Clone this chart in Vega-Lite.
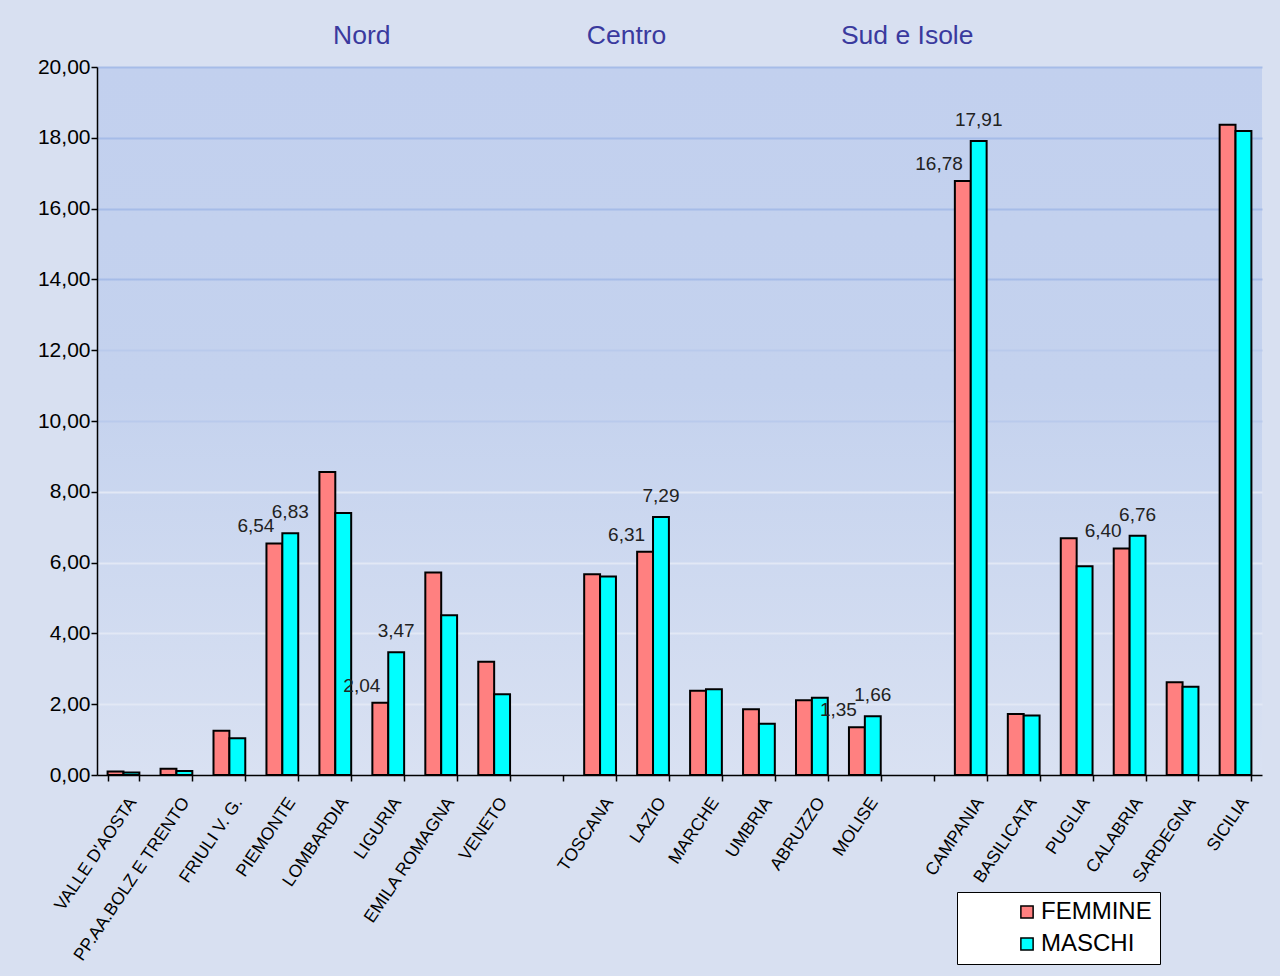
{
  "$schema": "https://vega.github.io/schema/vega-lite/v6.json",
  "autosize": {"type": "none"},
  "width": 1165,
  "height": 708,
  "padding": {"left": 97, "top": 67, "right": 18, "bottom": 201},
  "background": "#d8e0f1",
  "config": {
    "locale": {"number": {"decimal": ",", "thousands": ".", "grouping": [3], "currency": ["", " €"]}},
    "font": "Liberation Sans",
    "view": {
      "stroke": null,
      "fill": {
        "gradient": "linear",
        "x1": 0, "y1": 0, "x2": 0, "y2": 1,
        "stops": [
          {"offset": 0, "color": "#c2d0ee"},
          {"offset": 0.45, "color": "#c4d2ee"},
          {"offset": 1, "color": "#d9e1f2"}
        ]
      }
    }
  },
  "datasets": {
    "tassi": [
      {"regione": "VALLE D'AOSTA", "sesso": "FEMMINE", "valore": 0.10},
      {"regione": "VALLE D'AOSTA", "sesso": "MASCHI", "valore": 0.07},
      {"regione": "PP.AA.BOLZ E TRENTO", "sesso": "FEMMINE", "valore": 0.18},
      {"regione": "PP.AA.BOLZ E TRENTO", "sesso": "MASCHI", "valore": 0.11},
      {"regione": "FRIULI V. G.", "sesso": "FEMMINE", "valore": 1.25},
      {"regione": "FRIULI V. G.", "sesso": "MASCHI", "valore": 1.04},
      {"regione": "PIEMONTE", "sesso": "FEMMINE", "valore": 6.54},
      {"regione": "PIEMONTE", "sesso": "MASCHI", "valore": 6.83},
      {"regione": "LOMBARDIA", "sesso": "FEMMINE", "valore": 8.56},
      {"regione": "LOMBARDIA", "sesso": "MASCHI", "valore": 7.40},
      {"regione": "LIGURIA", "sesso": "FEMMINE", "valore": 2.04},
      {"regione": "LIGURIA", "sesso": "MASCHI", "valore": 3.47},
      {"regione": "EMILA ROMAGNA", "sesso": "FEMMINE", "valore": 5.72},
      {"regione": "EMILA ROMAGNA", "sesso": "MASCHI", "valore": 4.51},
      {"regione": "VENETO", "sesso": "FEMMINE", "valore": 3.20},
      {"regione": "VENETO", "sesso": "MASCHI", "valore": 2.28},
      {"regione": "TOSCANA", "sesso": "FEMMINE", "valore": 5.67},
      {"regione": "TOSCANA", "sesso": "MASCHI", "valore": 5.61},
      {"regione": "LAZIO", "sesso": "FEMMINE", "valore": 6.31},
      {"regione": "LAZIO", "sesso": "MASCHI", "valore": 7.29},
      {"regione": "MARCHE", "sesso": "FEMMINE", "valore": 2.38},
      {"regione": "MARCHE", "sesso": "MASCHI", "valore": 2.42},
      {"regione": "UMBRIA", "sesso": "FEMMINE", "valore": 1.86},
      {"regione": "UMBRIA", "sesso": "MASCHI", "valore": 1.45},
      {"regione": "ABRUZZO", "sesso": "FEMMINE", "valore": 2.11},
      {"regione": "ABRUZZO", "sesso": "MASCHI", "valore": 2.18},
      {"regione": "MOLISE", "sesso": "FEMMINE", "valore": 1.35},
      {"regione": "MOLISE", "sesso": "MASCHI", "valore": 1.66},
      {"regione": "CAMPANIA", "sesso": "FEMMINE", "valore": 16.78},
      {"regione": "CAMPANIA", "sesso": "MASCHI", "valore": 17.91},
      {"regione": "BASILICATA", "sesso": "FEMMINE", "valore": 1.72},
      {"regione": "BASILICATA", "sesso": "MASCHI", "valore": 1.68},
      {"regione": "PUGLIA", "sesso": "FEMMINE", "valore": 6.69},
      {"regione": "PUGLIA", "sesso": "MASCHI", "valore": 5.90},
      {"regione": "CALABRIA", "sesso": "FEMMINE", "valore": 6.40},
      {"regione": "CALABRIA", "sesso": "MASCHI", "valore": 6.76},
      {"regione": "SARDEGNA", "sesso": "FEMMINE", "valore": 2.62},
      {"regione": "SARDEGNA", "sesso": "MASCHI", "valore": 2.49},
      {"regione": "SICILIA", "sesso": "FEMMINE", "valore": 18.37},
      {"regione": "SICILIA", "sesso": "MASCHI", "valore": 18.19}
    ],
    "aree": [
      {"area": "Nord", "dopo": "LOMBARDIA"},
      {"area": "Centro", "dopo": "TOSCANA"}
    ],
    "isole": [
      {"area": "Sud e Isole", "dopo": "  "}
    ]
  },
  "encoding": {
    "x": {
      "field": "regione",
      "type": "nominal",
      "scale": {
        "domain": ["VALLE D'AOSTA", "PP.AA.BOLZ E TRENTO", "FRIULI V. G.", "PIEMONTE", "LOMBARDIA", "LIGURIA", "EMILA ROMAGNA", "VENETO", " ", "TOSCANA", "LAZIO", "MARCHE", "UMBRIA", "ABRUZZO", "MOLISE", "  ", "CAMPANIA", "BASILICATA", "PUGLIA", "CALABRIA", "SARDEGNA", "SICILIA"],
        "paddingInner": 0.4,
        "paddingOuter": 0.2
      },
      "axis": {
        "title": null,
        "tickBand": "extent",
        "domainColor": "#000000",
        "domainWidth": 1.5,
        "tickColor": "#000000",
        "tickWidth": 1.5,
        "tickSize": 6,
        "labelAngle": -56,
        "labelAlign": "right",
        "labelBaseline": "middle",
        "labelOffset": 9,
        "labelPadding": 18,
        "labelFontSize": 17.5,
        "labelColor": "#000000",
        "labelFont": "Liberation Sans",
        "labelLimit": 300,
        "labelOverlap": false
      }
    }
  },
  "layer": [
    {
      "data": {"name": "tassi"},
      "mark": {"type": "bar", "stroke": "#000000", "strokeWidth": 2},
      "encoding": {
        "xOffset": {"field": "sesso", "type": "nominal", "scale": {"paddingInner": 0, "paddingOuter": 0}},
        "y": {
          "field": "valore",
          "type": "quantitative",
          "scale": {"domain": [0, 20], "nice": false},
          "axis": {
            "title": null,
            "values": [0, 2, 4, 6, 8, 10, 12, 14, 16, 18, 20],
            "labelOverlap": false,
            "format": ".2f",
            "labelFontSize": 21,
            "labelColor": "#000000",
            "labelFont": "Liberation Sans",
            "labelPadding": 1,
            "domainColor": "#000000",
            "domainWidth": 1.5,
            "tickColor": "#000000",
            "tickWidth": 1.5,
            "tickSize": 6,
            "gridWidth": 2,
            "gridColor": {
              "condition": [
                {"test": "datum.value == 0", "value": "transparent"},
                {"test": "datum.value >= 14", "value": "#a6bce8"},
                {"test": "datum.value >= 9", "value": "#b9caec"}
              ],
              "value": "#e2e8f5"
            }
          }
        },
        "color": {
          "field": "sesso",
          "type": "nominal",
          "scale": {"domain": ["FEMMINE", "MASCHI"], "range": ["#ff8080", "#00ffff"]},
          "legend": {
            "title": null,
            "orient": "none",
            "legendX": 860,
            "legendY": 825,
            "direction": "vertical",
            "fillColor": "#ffffff",
            "strokeColor": "#000000",
            "padding": 8,
            "symbolType": "square",
            "symbolSize": 150,
            "symbolStrokeColor": "#000000",
            "symbolStrokeWidth": 1.5,
            "symbolOffset": 50,
            "labelFontSize": 24,
            "labelFont": "Liberation Sans",
            "labelColor": "#000000",
            "labelOffset": 2,
            "labelExpr": "datum.label + '\u00a0\u00a0\u00a0\u00a0\u00a0\u00a0\u00a0\u00a0\u00a0'",
            "rowPadding": 8,
            "labelLimit": 400
          }
        }
      }
    },
    {
      "data": {"name": "tassi"},
      "transform": [
        {"filter": "datum.sesso == 'FEMMINE'"},
        {"filter": {"field": "regione", "oneOf": ["PIEMONTE", "LIGURIA", "LAZIO", "MOLISE", "CAMPANIA", "CALABRIA"]}}
      ],
      "mark": {"type": "text", "align": "right", "baseline": "bottom", "dx": 0, "dy": -7, "fontSize": 19, "color": "#222222", "font": "Liberation Sans"},
      "encoding": {
        "xOffset": {"field": "sesso", "type": "nominal", "scale": {"domain": ["FEMMINE", "MASCHI"]}},
        "y": {"field": "valore", "type": "quantitative"},
        "text": {"field": "valore", "type": "quantitative", "format": ".2f"}
      }
    },
    {
      "data": {"name": "tassi"},
      "transform": [
        {"filter": "datum.sesso == 'MASCHI'"},
        {"filter": {"field": "regione", "oneOf": ["PIEMONTE", "LIGURIA", "LAZIO", "MOLISE", "CAMPANIA", "CALABRIA"]}}
      ],
      "mark": {"type": "text", "align": "center", "baseline": "bottom", "dy": -11, "fontSize": 19, "color": "#222222", "font": "Liberation Sans"},
      "encoding": {
        "xOffset": {"field": "sesso", "type": "nominal", "scale": {"domain": ["FEMMINE", "MASCHI"]}},
        "y": {"field": "valore", "type": "quantitative"},
        "text": {"field": "valore", "type": "quantitative", "format": ".2f"}
      }
    },
    {
      "data": {"name": "aree"},
      "mark": {"type": "text", "align": "center", "baseline": "middle", "dy": -31, "fontSize": 26.5, "color": "#3a3a9e", "font": "Liberation Sans"},
      "encoding": {
        "x": {"field": "dopo", "type": "nominal", "bandPosition": 1.3333},
        "y": {"datum": 20},
        "text": {"field": "area"}
      }
    },
    {
      "data": {"name": "isole"},
      "mark": {"type": "text", "align": "center", "baseline": "middle", "dy": -31, "fontSize": 26.5, "color": "#3a3a9e", "font": "Liberation Sans"},
      "encoding": {
        "x": {"field": "dopo", "type": "nominal", "bandPosition": 0.1667},
        "y": {"datum": 20},
        "text": {"field": "area"}
      }
    }
  ]
}
